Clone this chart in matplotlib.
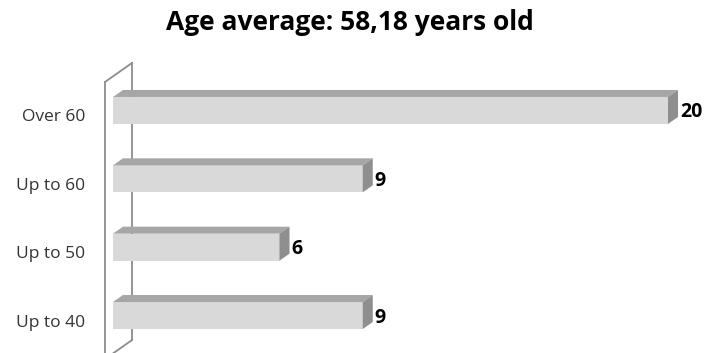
import matplotlib
matplotlib.use('Agg')
import matplotlib.pyplot as plt
from matplotlib.patches import Polygon
from matplotlib.lines import Line2D

# dados do grafico
categories = ['Up to 40', 'Up to 50', 'Up to 60', 'Over 60']
counts = [9, 6, 9, 20]
title = 'Age average: 58,18 years old'

plt.rcParams['font.family'] = ['Open Sans', 'DejaVu Sans']

W, H = 707, 353
fig = plt.figure(figsize=(W / 100, H / 100), dpi=100)
# eixo: valor 0 em x=113px, valor 20 em x=668px; categorias espacadas ~68px
ax = fig.add_axes([113 / W, (H - 349.7) / H, 555 / W, (349.7 - 76.3) / H])
ax.set_xlim(0, 20)
ax.set_ylim(-0.5, 3.5)
ax.axis('off')

px_x = 555 / 20.0        # pixels por unidade
px_y = (349.7 - 76.3) / 4  # pixels por categoria
bar_h = 27 / px_y
dx, dy = 10 / px_x, 7 / px_y          # profundidade das barras
wdx, wdy = 27 / px_x, 19 / px_y       # profundidade da parede

front_c = '#d9d9d9'
top_c = '#a6a6a6'
side_c = '#8f8f8f'
wall_c = '#8c8c8c'

# parede lateral (eixo 3D)
x_front = -8 / px_x
y_top, y_bot = 3.417, -0.637
wall_kw = dict(color=wall_c, lw=1.3, clip_on=False, zorder=1)
ax.add_line(Line2D([x_front + wdx, x_front + wdx], [y_top + wdy, y_bot + wdy], **wall_kw))
ax.add_line(Line2D([x_front, x_front], [y_top, y_bot], **wall_kw))
ax.add_line(Line2D([x_front, x_front + wdx], [y_top, y_top + wdy], **wall_kw))
ax.add_line(Line2D([x_front, x_front + wdx], [y_bot, y_bot + wdy], **wall_kw))

ys = list(range(len(categories)))
ax.barh(ys, counts, height=bar_h, left=0, color=front_c, edgecolor='none', zorder=3)
for y, v, lab in zip(ys, counts, categories):
    t = y + bar_h / 2
    b = y - bar_h / 2
    ax.add_patch(Polygon([(0, t), (v, t), (v + dx, t + dy), (dx, t + dy)],
                         closed=True, fc=top_c, ec='none', zorder=3, clip_on=False))
    ax.add_patch(Polygon([(v, b), (v, t), (v + dx, t + dy), (v + dx, b + dy)],
                         closed=True, fc=side_c, ec='none', zorder=3, clip_on=False))
    ax.text(v + dx + 2 / px_x, y - 2 / px_y, str(v), ha='left', va='center',
            fontsize=14, fontweight='bold', color='black', clip_on=False)
    ax.text(-28 / px_x, y - 7 / px_y, lab, ha='right', va='center',
            fontsize=12.5, color='#333333', clip_on=False)

fig.text(350 / W, 1 - 22 / H, title, ha='center', va='center',
         fontsize=19, fontweight='bold', color='black')

fig.savefig('out.png', dpi=100)
